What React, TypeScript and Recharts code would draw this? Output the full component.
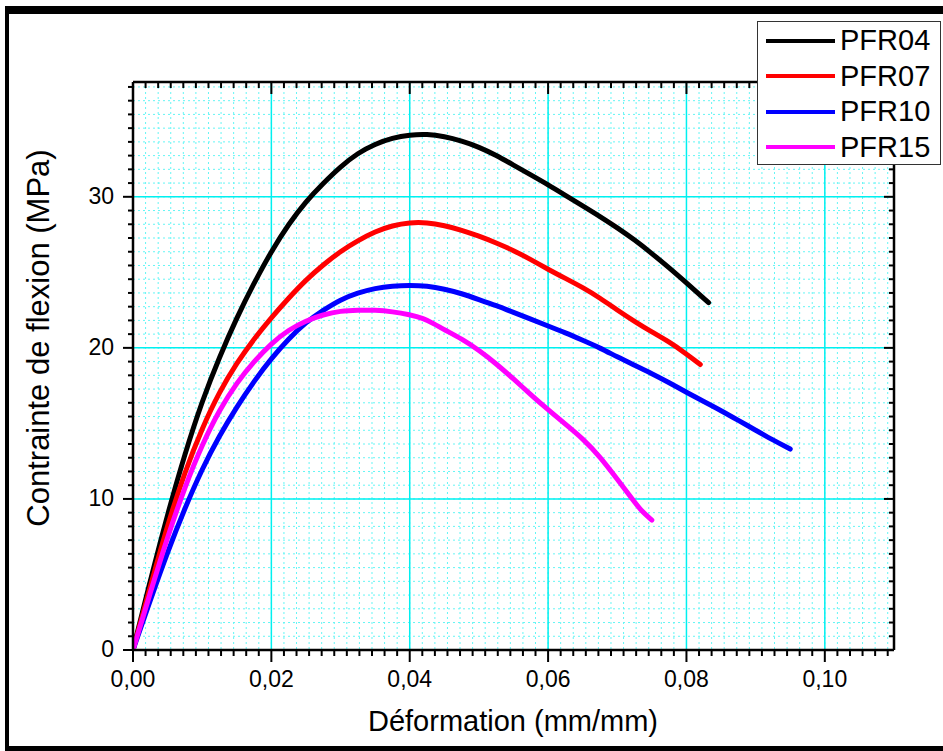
import {
  CartesianGrid,
  Label,
  Legend,
  Line,
  LineChart,
  XAxis,
  YAxis,
} from 'recharts'

// strain (mm/mm) and flexural stress (MPa)
const strainPFR04 = [0, 0.0025, 0.005, 0.0075, 0.01, 0.0125, 0.015, 0.0175, 0.02, 0.0225, 0.025, 0.0275, 0.03, 0.0325, 0.035, 0.0375, 0.04, 0.0425, 0.045, 0.0475, 0.05, 0.0525, 0.055, 0.0575, 0.06, 0.0625, 0.065, 0.0675, 0.07, 0.0725, 0.075, 0.0775, 0.08, 0.0832]
const stressPFR04 = [0, 4.6, 9.0, 13.0, 16.5, 19.4, 22.0, 24.3, 26.4, 28.2, 29.7, 30.9, 32.0, 32.9, 33.5, 33.9, 34.1, 34.15, 34.0, 33.7, 33.3, 32.75, 32.1, 31.45, 30.8, 30.1, 29.4, 28.7, 27.95, 27.15, 26.25, 25.3, 24.3, 23.0]

const strainPFR07 = [0, 0.0025, 0.005, 0.0075, 0.01, 0.0125, 0.015, 0.0175, 0.02, 0.0225, 0.025, 0.0275, 0.03, 0.0325, 0.035, 0.0375, 0.04, 0.0425, 0.045, 0.0475, 0.05, 0.0525, 0.055, 0.0575, 0.06, 0.0625, 0.065, 0.0675, 0.07, 0.0725, 0.075, 0.0775, 0.08, 0.082]
const stressPFR07 = [0, 4.2, 8.3, 11.8, 14.7, 17.1, 19.0, 20.6, 22.0, 23.3, 24.5, 25.5, 26.4, 27.1, 27.7, 28.1, 28.3, 28.3, 28.1, 27.8, 27.4, 26.95, 26.45, 25.85, 25.2, 24.6, 24.0, 23.3, 22.5, 21.75, 21.05, 20.4, 19.6, 18.9]

const strainPFR10 = [0, 0.0025, 0.005, 0.0075, 0.01, 0.0125, 0.015, 0.0175, 0.02, 0.0225, 0.025, 0.0275, 0.03, 0.0325, 0.035, 0.0375, 0.04, 0.0425, 0.045, 0.0475, 0.05, 0.0525, 0.055, 0.0575, 0.06, 0.0625, 0.065, 0.0675, 0.07, 0.0725, 0.075, 0.0775, 0.08, 0.0825, 0.085, 0.0875, 0.09, 0.0925, 0.095]
const stressPFR10 = [0, 3.3, 6.5, 9.4, 12.0, 14.2, 16.1, 17.8, 19.3, 20.6, 21.7, 22.5, 23.2, 23.65, 23.95, 24.1, 24.15, 24.1, 23.9, 23.6, 23.2, 22.8, 22.35, 21.9, 21.45, 21.0, 20.5, 20.0, 19.4, 18.85, 18.3, 17.7, 17.05, 16.45, 15.85, 15.2, 14.55, 13.9, 13.3]

const strainPFR15 = [0, 0.0025, 0.005, 0.0075, 0.01, 0.0125, 0.015, 0.0175, 0.02, 0.0225, 0.025, 0.0275, 0.03, 0.0325, 0.035, 0.0375, 0.04, 0.042, 0.0435, 0.045, 0.0475, 0.05, 0.0525, 0.055, 0.0575, 0.06, 0.0625, 0.065, 0.0675, 0.07, 0.0725, 0.0735, 0.075]
const stressPFR15 = [0, 3.8, 7.5, 10.8, 13.6, 15.9, 17.7, 19.1, 20.3, 21.2, 21.8, 22.2, 22.45, 22.5, 22.5, 22.4, 22.2, 21.95, 21.6, 21.2, 20.6, 19.85, 18.95, 17.95, 16.9, 15.9, 14.95, 14.0, 12.8, 11.3, 9.8, 9.2, 8.6]

const seriesNames = ['PFR04', 'PFR07', 'PFR10', 'PFR15']
const seriesColors = ['#000000', '#ff0000', '#0000ff', '#ff00ff']

const xMajorTicks = [0, 0.02, 0.04, 0.06, 0.08, 0.1]
const xTickLabels = ['0,00', '0,02', '0,04', '0,06', '0,08', '0,10']
const yMajorTicks = [0, 10, 20, 30]
const yTickLabels = ['0', '10', '20', '30']

// origin-style minor ticks: 10 minor ticks between majors
const xMinorTicks = Array.from({ length: 61 }, (_, k) => (k * 0.02) / 11)
const yMinorTicks = Array.from({ length: 42 }, (_, k) => (k * 10) / 11)

const toPoints = (xs: number[], ys: number[]) => xs.map((x, i) => ({ x, y: ys[i] }))
const series = [
  toPoints(strainPFR04, stressPFR04),
  toPoints(strainPFR07, stressPFR07),
  toPoints(strainPFR10, stressPFR10),
  toPoints(strainPFR15, stressPFR15),
]

const FONT = '"Liberation Sans", Arial, sans-serif'

const majorIndex = (value: number, majors: number[]) =>
  majors.findIndex((m) => Math.abs(m - value) < 1e-9)

const BottomTick = (props: any) => {
  const { x, y, payload } = props
  const i = majorIndex(payload.value, xMajorTicks)
  return (
    <g>
      <line x1={x} x2={x} y1={y} y2={y + (i >= 0 ? 12 : 6)} stroke="#000" strokeWidth={2} />
      {i >= 0 && (
        <text x={x} y={y + 37} textAnchor="middle" fontSize={23} fontFamily={FONT} fill="#000">
          {xTickLabels[i]}
        </text>
      )}
    </g>
  )
}

const TopTick = (props: any) => {
  const { x, y, payload } = props
  const i = majorIndex(payload.value, xMajorTicks)
  return <line x1={x} x2={x} y1={y} y2={y + (i >= 0 ? 12 : 6)} stroke="#000" strokeWidth={2} />
}

const LeftTick = (props: any) => {
  const { x, y, payload } = props
  const i = majorIndex(payload.value, yMajorTicks)
  return (
    <g>
      <line x1={x - (i >= 0 ? 10 : 5)} x2={x} y1={y} y2={y} stroke="#000" strokeWidth={2} />
      {i >= 0 && (
        <text x={x - 19} y={y + 7} textAnchor="end" fontSize={23} fontFamily={FONT} fill="#000">
          {yTickLabels[i]}
        </text>
      )}
    </g>
  )
}

const RightTick = (props: any) => {
  const { x, y, payload } = props
  const i = majorIndex(payload.value, yMajorTicks)
  return <line x1={x - (i >= 0 ? 10 : 5)} x2={x} y1={y} y2={y} stroke="#000" strokeWidth={2} />
}

const renderLegend = (props: any) => {
  const { payload } = props
  return (
    <div
      style={{
        border: '1px solid #333',
        background: '#fff',
        boxSizing: 'border-box',
        width: 184,
        height: 144,
        paddingTop: 1,
        fontFamily: FONT,
      }}
    >
      {(payload || []).map((entry: any) => (
        <div key={entry.value} style={{ display: 'flex', alignItems: 'center', height: 35.5 }}>
          <div style={{ marginLeft: 8, width: 69, height: 4, background: entry.color }} />
          <span style={{ marginLeft: 5, fontSize: 29, lineHeight: '35.5px', color: '#000' }}>
            {entry.value}
          </span>
        </div>
      ))}
    </div>
  )
}

export default function App() {
  return (
    <div style={{ position: 'fixed', left: 0, top: 0, width: 943, height: 751, overflow: 'hidden', background: '#fff' }}>
      <div
        style={{
          position: 'absolute',
          left: 5,
          top: 6,
          width: 1000,
          height: 747,
          boxSizing: 'border-box',
          borderTop: '8px solid #000',
          borderLeft: '4px solid #000',
          borderBottom: '7px solid #000',
        }}
      />
      <div style={{ position: 'absolute', left: 0, top: 0 }}>
        <LineChart width={943} height={751} margin={{ top: 81, right: 48, bottom: 100, left: 132 }}>
          <XAxis xAxisId="xMajor" type="number" dataKey="x" domain={[0, 0.11]} ticks={xMajorTicks} hide allowDataOverflow />
          <YAxis yAxisId="yMajor" type="number" dataKey="y" domain={[0, 37.6]} ticks={yMajorTicks} hide allowDataOverflow />
          <CartesianGrid
            xAxisId="x"
            yAxisId="y"
            stroke="#66f5f5"
            strokeWidth={1}
            strokeDasharray="2 3"
          />
          <CartesianGrid xAxisId="xMajor" yAxisId="yMajor" stroke="#00f0f0" strokeWidth={1.5} />
          <XAxis
            xAxisId="x"
            type="number"
            dataKey="x"
            domain={[0, 0.11]}
            ticks={xMinorTicks}
            interval={0}
            height={1}
            tickSize={0}
            tickMargin={0}
            tickLine={false}
            tick={BottomTick}
            axisLine={{ stroke: '#000', strokeWidth: 2.5 }}
            allowDataOverflow
          >
            <Label
              content={() => (
                <text x={513} y={731} textAnchor="middle" fontSize={29} fontFamily={FONT} fill="#000">
                  Déformation (mm/mm)
                </text>
              )}
            />
          </XAxis>
          <XAxis
            xAxisId="xTop"
            orientation="top"
            type="number"
            dataKey="x"
            domain={[0, 0.11]}
            ticks={xMinorTicks}
            interval={0}
            height={1}
            tickSize={0}
            tickMargin={0}
            tickLine={false}
            tick={TopTick}
            axisLine={{ stroke: '#000', strokeWidth: 2.5 }}
            allowDataOverflow
          />
          <YAxis
            yAxisId="y"
            type="number"
            dataKey="y"
            domain={[0, 37.6]}
            ticks={yMinorTicks}
            interval={0}
            width={1}
            tickSize={0}
            tickMargin={0}
            tickLine={false}
            tick={LeftTick}
            axisLine={{ stroke: '#000', strokeWidth: 2.5 }}
            allowDataOverflow
          >
            <Label
              content={() => (
                <text
                  transform="translate(49 338) rotate(-90)"
                  textAnchor="middle"
                  fontSize={31}
                  fontFamily={FONT}
                  fill="#000"
                >
                  Contrainte de flexion (MPa)
                </text>
              )}
            />
          </YAxis>
          <YAxis
            yAxisId="yRight"
            orientation="right"
            type="number"
            dataKey="y"
            domain={[0, 37.6]}
            ticks={yMinorTicks}
            interval={0}
            width={1}
            tickSize={0}
            tickMargin={0}
            tickLine={false}
            tick={RightTick}
            axisLine={{ stroke: '#000', strokeWidth: 2.5 }}
            allowDataOverflow
          />
          {series.map((data, i) => (
            <Line
              key={seriesNames[i]}
              xAxisId="x"
              yAxisId="y"
              data={data}
              dataKey="y"
              name={seriesNames[i]}
              type="basis"
              stroke={seriesColors[i]}
              strokeWidth={5}
              strokeLinejoin="round"
              strokeLinecap="round"
              dot={false}
              activeDot={false}
              isAnimationActive={false}
            />
          ))}
          <Legend
            layout="vertical"
            align="center"
            verticalAlign="middle"
            content={renderLegend}
            wrapperStyle={{ left: 757, top: 21, width: 184, height: 144 }}
          />
        </LineChart>
      </div>
    </div>
  )
}
